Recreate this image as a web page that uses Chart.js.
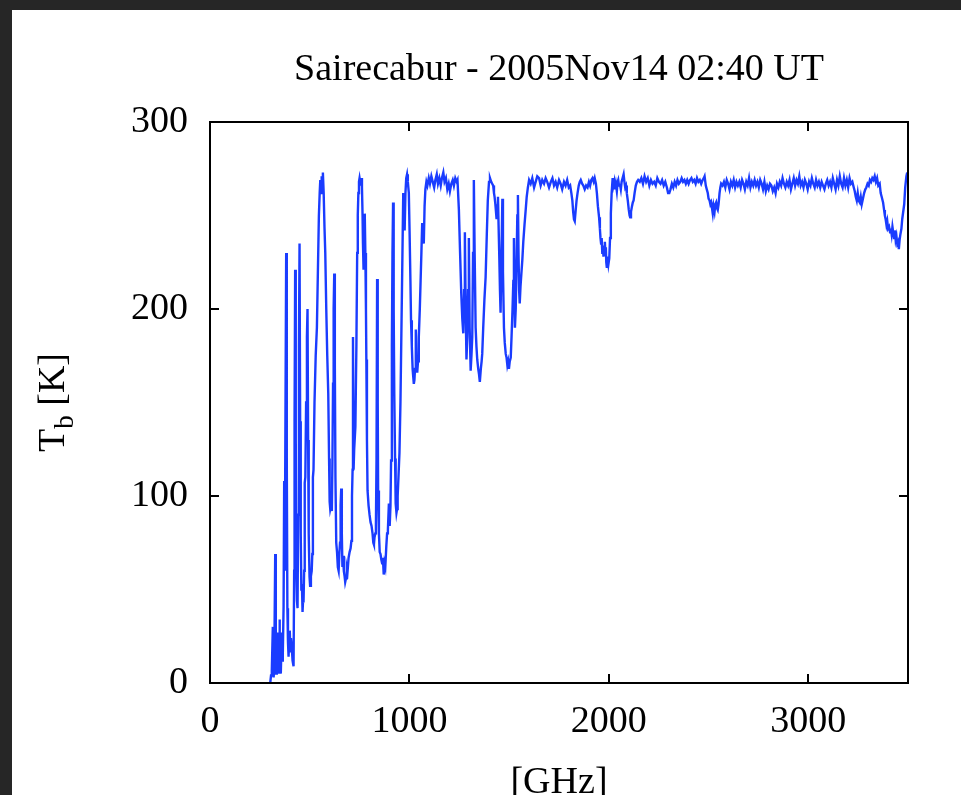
<!DOCTYPE html>
<html>
<head>
<meta charset="utf-8">
<title>Sairecabur - 2005Nov14 02:40 UT</title>
<script src="https://cdn.jsdelivr.net/npm/chart.js@4.4.1/dist/chart.umd.min.js"></script>
<style>
    html, body { margin: 0; padding: 0; background: #262626; overflow: hidden; }
    #wrap { position: absolute; left: 12px; top: 10px; width: 949px; height: 785px; background: #fff; }
</style>
</head>
<body>
<div id="wrap"><canvas id="tb-chart" width="949" height="785"></canvas></div>
<script>
    const titleText = "Sairecabur - 2005Nov14 02:40 UT";
    const xTicks = [0, 1000, 2000, 3000];
    const yTicks = [0, 100, 200, 300];

    // 300 - 1085 GHz (strong water / oxygen lines)
    const lowFreq = [
        302,306,310,315,319,322,327,330,332,335,
        338,341,343,346,348,351,355,358,360,363,
        365,369,372,375,377,382,385,388,391,394,
        397,400,403,406,410,414,419,422,424,427,
        430,433,436,439,442,446,449,452,455,458,
        461,464,467,469,472,475,478,482,486,489,
        492,495,499,502,506,510,513,516,519,524,
        530,536,541,546,550,553,557,560,563,566,
        570,574,578,583,588,593,597,600,603,607,
        611,614,617,620,623,626,629,633,637,641,
        645,649,652,655,658,661,664,667,671,675,
        678,682,686,690,695,700,705,709,712,715,
        717,720,723,729,734,738,741,744,747,750,
        753,756,759,762,765,767,770,773,776,779,
        782,784,787,790,795,800,805,810,815,819,
        822,825,829,832,835,838,841,843,847,851,
        855,859,863,867,871,875,879,884,888,892,
        897,901,905,908,912,915,918,921,924,928,
        931,935,938,941,945,950,955,960,965,969,
        972,976,980,984,988,992,997,1001,1005,1008,
        1012,1016,1019,1022,1025,1028,1032,1035,1039,1043,
        1047,1052,1056,1060,1064,1068,1072,1076,1080,1085
    ];
    const lowTb = [
        0,4,7,30,3,8,69,20,5,14,
        27,8,5,20,34,12,5,18,27,12,
        15,41,108,60,110,230,120,40,22,14,
        25,28,17,24,19,12,9,60,140,221,
        130,60,44,40,90,180,235,140,80,50,
        53,38,45,43,60,107,110,150,185,200,
        130,80,57,52,57,60,69,110,114,150,
        175,190,220,250,262,269,262,271,265,273,
        262,244,230,200,175,155,120,97,93,95,
        92,120,160,200,219,170,110,75,70,62,
        60,70,75,95,104,80,62,68,60,57,
        54,56,62,60,67,70,72,76,100,114,
        185,114,125,137,180,230,250,262,268,270,
        268,266,270,265,250,235,221,240,251,230,
        200,173,130,103,95,90,86,84,80,75,
        74,78,80,84,120,216,150,103,80,70,
        69,66,64,67,58,64,62,73,80,82,
        96,84,95,119,180,230,257,200,155,120,
        96,91,93,100,110,123,150,190,230,262,
        250,242,262,270,272,268,262,240,215,194,
        180,168,164,160,162,168,189,175,166,172,
        185,200,215,230,246,240,235,255,264,268
    ];

    // 1090 - 1600 GHz
    const midFreq = [
        1090,1097,1103,1110,1117,1124,1130,1137,1143,1150,
        1157,1163,1170,1176,1183,1190,1197,1203,1210,1217,
        1223,1230,1237,1241,1248,1254,1260,1265,1270,1274,
        1278,1282,1286,1290,1294,1298,1302,1307,1311,1315,
        1319,1323,1327,1332,1336,1340,1345,1349,1353,1358,
        1362,1365,1370,1376,1382,1388,1393,1399,1404,1410,
        1415,1420,1424,1427,1431,1434,1437,1440,1444,1447,
        1451,1454,1457,1461,1466,1469,1474,1478,1483,1487,
        1491,1495,1499,1503,1508,1512,1517,1521,1524,1527,
        1529,1533,1538,1541,1544,1547,1550,1553,1557,1562,
        1566,1571,1577,1583,1588,1594,1600
    ];
    const midTb = [
        266,270,267,271,268,265,269,272,267,270,
        266,270,273,268,270,264,267,263,267,269,
        266,270,268,269,253,230,208,195,187,210,
        241,200,173,185,210,238,190,167,175,185,
        230,269,230,190,180,173,168,165,161,168,
        172,176,190,205,217,240,258,268,270,268,
        267,266,262,260,256,252,248,255,260,245,
        226,210,198,225,259,220,190,182,176,174,
        170,172,168,172,174,185,200,215,238,210,
        190,200,230,250,261,230,210,203,212,220,
        226,236,245,253,260,265,269
    ];

    // 1608 - 2570 GHz
    const highFreq = [
        1608,1616,1625,1633,1641,1650,1658,1666,1675,1683,
        1691,1700,1709,1717,1725,1733,1741,1750,1758,1766,
        1775,1783,1791,1799,1806,1812,1817,1821,1825,1829,
        1833,1838,1843,1849,1854,1859,1866,1872,1879,1886,
        1893,1900,1906,1912,1918,1924,1929,1935,1940,1945,
        1951,1955,1958,1961,1964,1967,1970,1973,1977,1980,
        1983,1985,1987,1990,1994,1998,2002,2006,2010,2014,
        2019,2023,2027,2030,2035,2040,2044,2047,2051,2055,
        2060,2064,2069,2074,2078,2082,2086,2090,2095,2100,
        2104,2107,2111,2116,2120,2124,2129,2135,2141,2147,
        2155,2163,2171,2179,2187,2195,2203,2211,2219,2227,
        2235,2243,2251,2259,2267,2275,2283,2291,2297,2303,
        2309,2316,2323,2330,2337,2344,2351,2358,2365,2372,
        2379,2386,2393,2400,2407,2414,2421,2428,2435,2442,
        2449,2456,2463,2470,2476,2480,2486,2491,2496,2500,
        2505,2509,2513,2517,2521,2525,2530,2534,2538,2542,
        2546,2550,2555,2559,2563,2570
    ];
    const highTb = [
        267,270,265,268,271,270,266,269,267,270,
        268,265,268,270,266,268,265,269,267,264,
        268,266,269,265,266,262,258,252,248,247,
        252,258,262,266,268,269,267,266,264,266,
        265,268,266,269,270,268,270,267,262,255,
        249,243,238,235,238,230,234,228,232,236,
        229,233,225,222,228,224,227,238,251,262,
        270,266,268,264,267,263,268,269,266,267,
        264,268,270,272,268,265,266,262,258,253,
        250,249,252,255,257,258,262,266,268,269,
        268,270,267,271,268,270,266,269,267,268,
        266,270,268,267,269,266,268,265,262,262,
        264,267,265,268,266,269,267,268,270,268,
        269,267,269,267,269,270,268,269,267,270,
        268,269,267,269,270,271,266,264,262,259,
        258,256,257,254,251,255,252,256,257,254,
        253,256,262,265,267,266
    ];

    // 2577 - 3500 GHz
    const farFreq = [
        2577,2584,2591,2598,2605,2612,2619,2626,2633,2640,
        2647,2654,2661,2668,2675,2682,2689,2696,2703,2710,
        2717,2724,2731,2738,2745,2752,2759,2766,2773,2780,
        2787,2794,2801,2808,2815,2822,2829,2836,2843,2850,
        2857,2864,2871,2878,2885,2892,2899,2906,2913,2920,
        2927,2934,2941,2948,2955,2962,2969,2976,2983,2990,
        2997,3004,3011,3018,3025,3032,3039,3046,3053,3060,
        3067,3074,3081,3088,3095,3102,3109,3116,3123,3130,
        3137,3144,3151,3158,3165,3172,3179,3186,3193,3200,
        3207,3214,3221,3228,3233,3238,3243,3248,3253,3258,
        3263,3268,3274,3280,3286,3291,3297,3303,3309,3315,
        3321,3327,3333,3339,3345,3351,3358,3363,3368,3375,
        3380,3384,3388,3392,3396,3400,3405,3410,3414,3418,
        3422,3426,3430,3434,3438,3442,3446,3450,3454,3458,
        3462,3467,3471,3476,3481,3486,3492,3496
    ];
    const farTb = [
        268,265,269,267,264,268,266,269,265,268,
        266,268,265,269,267,264,268,266,270,265,
        268,266,269,266,268,265,269,267,264,268,
        263,266,264,267,266,263,265,262,267,265,
        268,266,270,267,265,268,266,269,264,267,
        270,266,269,267,271,266,268,265,269,267,
        264,268,266,270,267,265,269,266,268,265,
        268,266,264,267,269,266,268,265,270,267,
        264,269,266,271,267,265,270,266,269,265,
        270,267,268,265,263,260,258,262,258,257,
        260,256,259,262,264,265,267,266,269,268,
        270,269,271,268,270,266,267,262,260,257,
        253,250,248,245,247,243,244,241,243,240,
        244,241,238,242,237,239,235,236,232,237,
        240,243,248,252,256,265,271,273
    ];

    const freqGHz = lowFreq.concat(midFreq, highFreq, farFreq);
    const tbK = lowTb.concat(midTb, highTb, farTb);

    const serif = '"Liberation Serif", "Times New Roman", serif';

    // gnuplot style frame with inward ticks, plus the titles
    const frameAndText = {
        id: 'frameAndText',
        afterDatasetsDraw(chart) {
            const ctx = chart.ctx;
            const a = chart.chartArea;
            const x = chart.scales.x, y = chart.scales.y;
            ctx.save();
            ctx.strokeStyle = '#000';
            ctx.lineWidth = 2;
            ctx.strokeRect(a.left, a.top, a.right - a.left, a.bottom - a.top);
            ctx.beginPath();
            xTicks.forEach(function (v) {
                const px = Math.round(x.getPixelForValue(v));
                ctx.moveTo(px, a.bottom); ctx.lineTo(px, a.bottom - 9);
                ctx.moveTo(px, a.top); ctx.lineTo(px, a.top + 9);
            });
            yTicks.forEach(function (v) {
                const py = Math.round(y.getPixelForValue(v));
                ctx.moveTo(a.left, py); ctx.lineTo(a.left + 9, py);
                ctx.moveTo(a.right, py); ctx.lineTo(a.right - 9, py);
            });
            ctx.stroke();

            ctx.fillStyle = '#000';
            ctx.font = '38px ' + serif;
            ctx.textAlign = 'center';
            ctx.textBaseline = 'alphabetic';
            const cx = (a.left + a.right) / 2;
            ctx.fillText(titleText, cx, 70);
            ctx.fillText('[GHz]', cx, 783);

            // T_b [K], rotated
            ctx.translate(52, (a.top + a.bottom) / 2);
            ctx.rotate(-Math.PI / 2);
            ctx.textAlign = 'left';
            const big = '38px ' + serif, small = '27px ' + serif;
            ctx.font = big;
            const wT = ctx.measureText('T').width;
            const wK = ctx.measureText(' [K]').width;
            ctx.font = small;
            const wb = ctx.measureText('b').width;
            let sx = -(wT + wb + wK) / 2;
            ctx.font = big; ctx.fillText('T', sx, 0); sx += wT;
            ctx.font = small; ctx.fillText('b', sx, 9); sx += wb;
            ctx.font = big; ctx.fillText(' [K]', sx, 0);
            ctx.restore();
        }
    };

    const plainLabel = function (value) { return String(value); };

    const ctx = document.getElementById('tb-chart').getContext('2d');
    const spectrumChart = new Chart(ctx, {
        type: 'line',
        data: {
            datasets: [{
                data: freqGHz.map(function (f, i) { return {x: f, y: tbK[i]}; }),
                borderColor: '#1a3cff',
                borderWidth: 2.4,
                pointRadius: 0,
                tension: 0,
                fill: false
            }]
        },
        options: {
            responsive: false,
            animation: false,
            layout: {
                padding: {top: 112, right: 53, left: 0, bottom: 0}
            },
            plugins: {
                legend: {display: false},
                tooltip: {enabled: false}
            },
            scales: {
                x: {
                    type: 'linear',
                    min: 0,
                    max: 3500,
                    grid: {display: false, drawTicks: false},
                    border: {display: false},
                    ticks: {
                        color: '#000',
                        padding: 16,
                        maxRotation: 0,
                        font: {family: serif, size: 38},
                        callback: plainLabel
                    },
                    afterBuildTicks: function (scale) {
                        scale.ticks = xTicks.map(function (v) { return {value: v}; });
                    },
                    afterFit: function (scale) { scale.height = 112; }
                },
                y: {
                    min: 0,
                    max: 300,
                    grid: {display: false, drawTicks: false},
                    border: {display: false},
                    ticks: {
                        color: '#000',
                        padding: 22,
                        font: {family: serif, size: 38},
                        callback: plainLabel
                    },
                    afterBuildTicks: function (scale) {
                        scale.ticks = yTicks.map(function (v) { return {value: v}; });
                    },
                    afterFit: function (scale) { scale.width = 198; }
                }
            }
        },
        plugins: [frameAndText]
    });
</script>
</body>
</html>
